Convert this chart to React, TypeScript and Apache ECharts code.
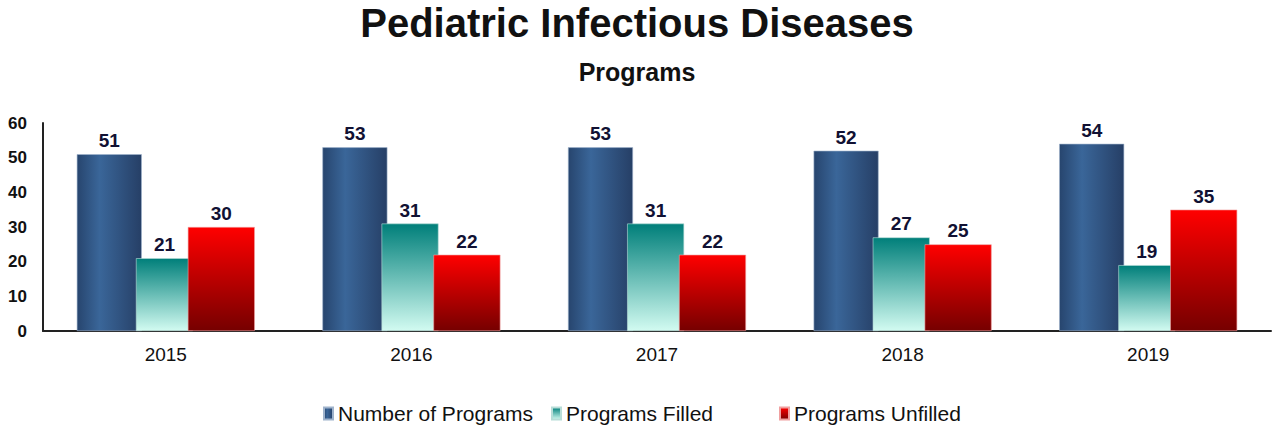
import React, { useEffect, useRef } from "react";
import * as echarts from "echarts";

const categories = ["2015", "2016", "2017", "2018", "2019"];
const numberOfPrograms = [51, 53, 53, 52, 54];
const programsFilled = [21, 31, 31, 27, 19];
const programsUnfilled = [30, 22, 22, 25, 35];
const yTicks = { min: 0, max: 60, interval: 10 };

const FONT = "'Liberation Sans', Arial, sans-serif";

export default function App() {
  const ref = useRef<HTMLDivElement>(null);
  useEffect(() => {
    if (!ref.current) return;
    const chart = echarts.init(ref.current, null, { renderer: "svg" });
    const blue = new echarts.graphic.LinearGradient(0, 0, 1, 0, [
      { offset: 0, color: "#27456e" },
      { offset: 0.35, color: "#3a6699" },
      { offset: 1, color: "#263f66" },
    ]);
    const teal = new echarts.graphic.LinearGradient(0, 0, 0, 1, [
      { offset: 0, color: "#007f7a" },
      { offset: 1, color: "#d2fbf1" },
    ]);
    const red = new echarts.graphic.LinearGradient(0, 0, 0, 1, [
      { offset: 0, color: "#ff0000" },
      { offset: 1, color: "#760000" },
    ]);
    const label = {
      show: true,
      position: "top",
      distance: 4,
      color: "#111133",
      fontFamily: FONT,
      fontWeight: "bold",
      fontSize: 19,
    };
    const legendBase = {
      top: 398,
      itemWidth: 9,
      itemHeight: 12,
      icon: "rect",
      orient: "horizontal",
      textStyle: { fontFamily: FONT, fontSize: 21, color: "#111" },
      itemGap: 6,
    };
    chart.setOption({
      animation: false,
      backgroundColor: "#ffffff",
      title: [
        {
          text: "Pediatric Infectious Diseases",
          left: "center",
          top: -2,
          textStyle: { fontFamily: FONT, fontSize: 40, fontWeight: "bold", color: "#111" },
        },
        {
          text: "Programs",
          left: "center",
          top: 54,
          textStyle: { fontFamily: FONT, fontSize: 25, fontWeight: "bold", color: "#111" },
        },
      ],
      legend: [
        { ...legendBase, left: 318, data: ["Number of Programs"] },
        { ...legendBase, left: 546, data: ["Programs Filled"] },
        { ...legendBase, left: 774, data: ["Programs Unfilled"] },
      ],
      grid: { left: 43, right: 3, top: 123, bottom: 96 },
      xAxis: {
        type: "category",
        data: categories,
        axisLine: { lineStyle: { color: "#222", width: 2 } },
        axisTick: { show: false },
        axisLabel: { fontFamily: FONT, fontSize: 19, color: "#111", margin: 14 },
      },
      yAxis: {
        type: "value",
        min: yTicks.min,
        max: yTicks.max,
        interval: yTicks.interval,
        axisLine: { show: true, lineStyle: { color: "#222", width: 2 } },
        axisTick: { show: false },
        splitLine: { show: false },
        axisLabel: { fontFamily: FONT, fontSize: 17, fontWeight: "bold", color: "#111", margin: 16 },
      },
      series: [
        {
          name: "Number of Programs",
          type: "bar",
          data: numberOfPrograms,
          barWidth: 65,
          barGap: "-9%",
          barCategoryGap: "20%",
          itemStyle: { color: blue, borderColor: "#9fb3cc", borderWidth: 0.6 },
          label,
        },
        {
          name: "Programs Filled",
          type: "bar",
          data: programsFilled,
          barWidth: 57,
          barGap: "-9%",
          itemStyle: { color: teal, borderColor: "#b8ddd8", borderWidth: 0.6 },
          label,
        },
        {
          name: "Programs Unfilled",
          type: "bar",
          data: programsUnfilled,
          barWidth: 67,
          barGap: "-9%",
          itemStyle: { color: red, borderColor: "#f0a0a0", borderWidth: 0.6 },
          label,
        },
      ],
    });
    return () => chart.dispose();
  }, []);
  return <div ref={ref} style={{ width: 1274, height: 427, position: "absolute", left: 0, top: 0 }} />;
}
